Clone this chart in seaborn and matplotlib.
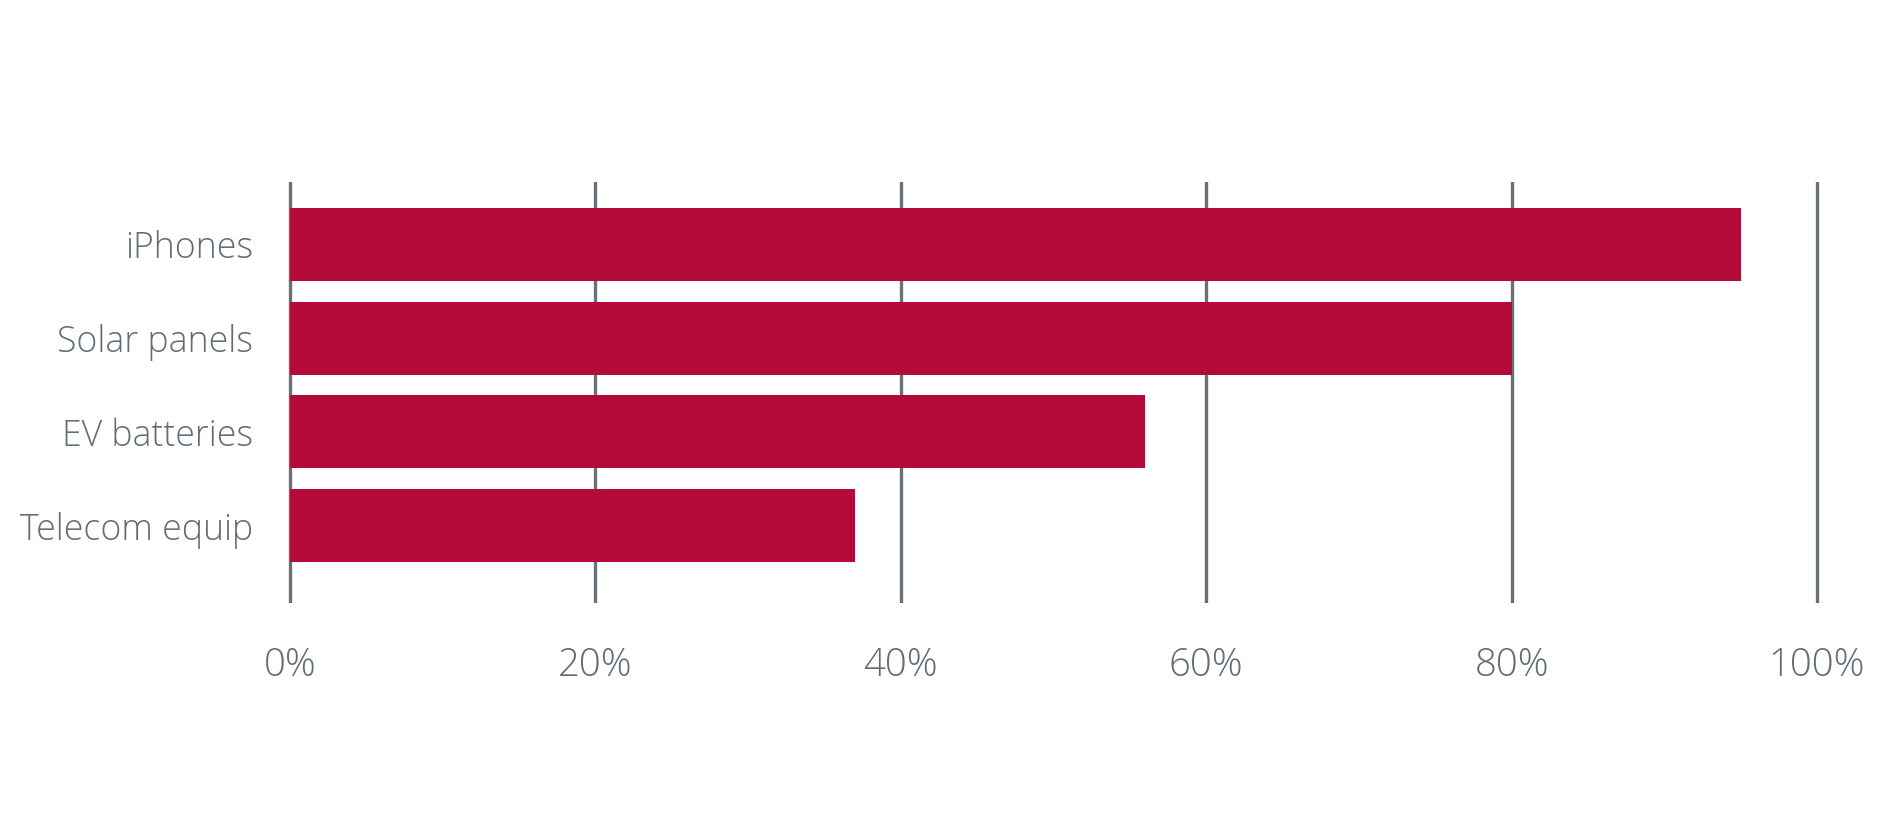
import matplotlib
matplotlib.use("Agg")
import matplotlib.pyplot as plt
import seaborn as sns
import pandas as pd
from matplotlib.ticker import FuncFormatter

categories = ["iPhones", "Solar panels", "EV batteries", "Telecom equip"]
values = [95, 80, 56, 37]
xticks = [0, 20, 40, 60, 80, 100]

BAR = "#b30a3a"
GRID = "#68717b"
TEXT = "#636d77"

sns.set_theme(style="white")
plt.rcParams["font.family"] = ["Open Sans", "DejaVu Sans"]

df = pd.DataFrame({"category": categories, "value": values})

W, H = 1902, 827
fig = plt.figure(figsize=(W / 100, H / 100), dpi=100)
px = 15.27
left = 290 - 0.3 * px
right = 1817 + 0.3 * px
ax = fig.add_axes([left / W, (H - 603) / H, (right - left) / W, (603 - 182) / H])

sns.barplot(data=df, x="value", y="category", orient="h", color=BAR,
            saturation=1, width=0.78, ax=ax, zorder=3, linewidth=0)

ax.set_xlim(-0.3, 100.3)
ax.set_ylim(3.827, -0.667)
ax.set_xticks(xticks)
ax.xaxis.set_major_formatter(FuncFormatter(lambda v, p: f"{int(v)}%"))
ax.grid(axis="x", color=GRID, linewidth=2.4, zorder=0)
ax.grid(axis="y", visible=False)
ax.set_axisbelow(True)
for s in ax.spines.values():
    s.set_visible(False)
ax.set_xlabel("")
ax.set_ylabel("")
ax.tick_params(axis="x", length=0, pad=31, labelsize=27.5, labelcolor=TEXT)
ax.tick_params(axis="y", length=0, pad=23, labelsize=25.7, labelcolor=TEXT)
for t in ax.get_xticklabels() + ax.get_yticklabels():
    t.set_fontweight("light")

fig.savefig("out.png", dpi=100, facecolor="white")
